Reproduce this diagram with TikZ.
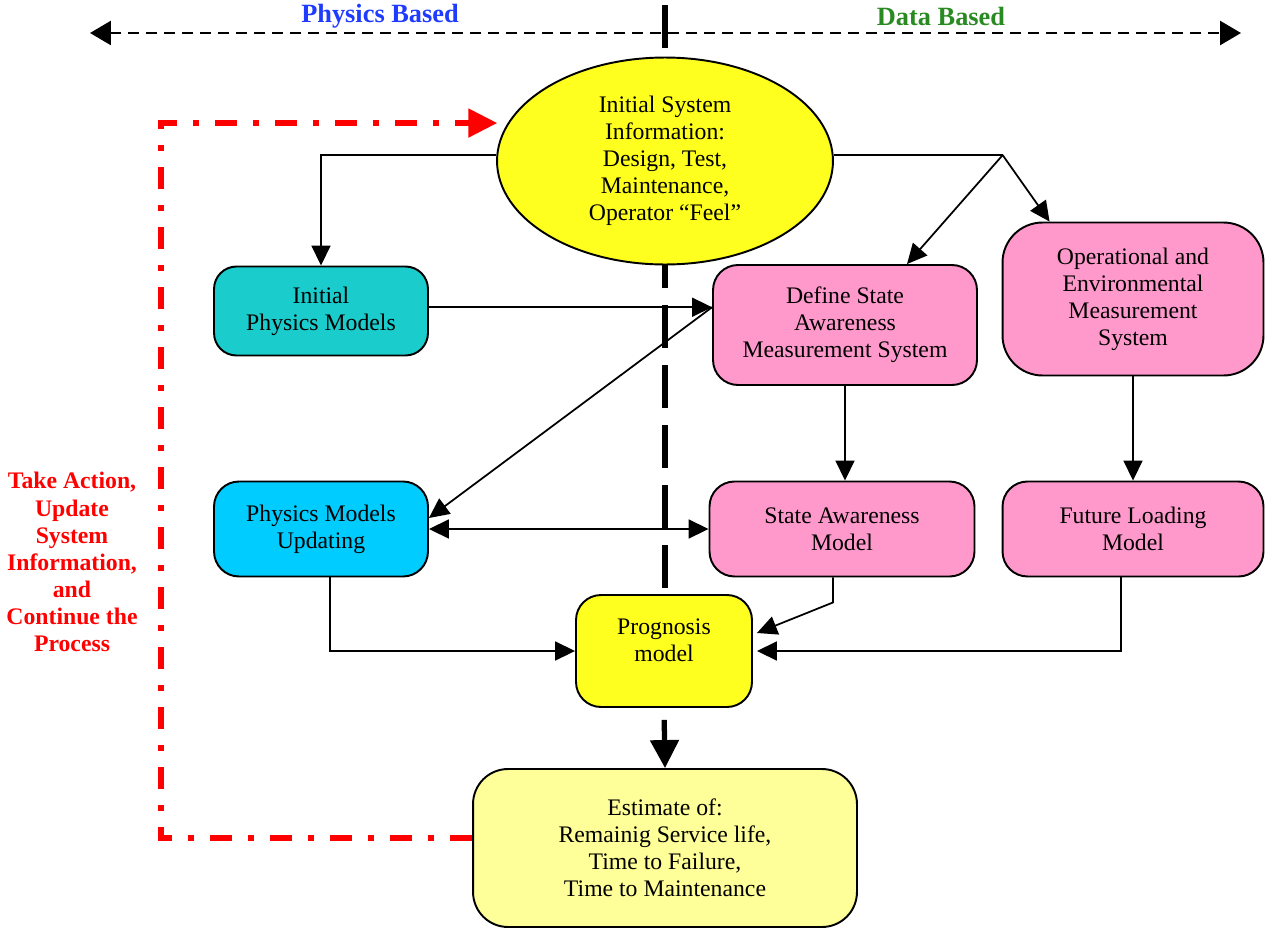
\documentclass[tikz,border=0pt]{standalone}
\usepackage{fontspec}
\setmainfont{Liberation Serif}
\usetikzlibrary{arrows.meta,shapes.geometric,calc}
\definecolor{turquesa}{HTML}{1ACCCC}
\definecolor{celeste}{HTML}{00CCFF}
\definecolor{rosa}{HTML}{FF99CC}
\definecolor{amarillo}{HTML}{FFFF1F}
\definecolor{crema}{HTML}{FFFF99}
\definecolor{azul}{HTML}{1F3BFF}
\definecolor{verde}{HTML}{2A8A22}
\definecolor{rojo}{HTML}{FF0000}

\begin{document}
\begin{tikzpicture}[x=0.02cm, y=-0.02cm,
  font=\fontsize{13.5}{15.4}\selectfont,
  bloque/.style={draw, line width=1.1pt, rounded corners=0.5cm, align=center, inner sep=4pt},
  conector/.style={-{Triangle[length=0.4cm, width=0.38cm]}, line width=1pt},
  divisoria/.style={line width=3pt, dash pattern=on 0.86cm off 0.34cm},
  retorno/.style={draw=rojo, line width=3pt, dash pattern=on 0.44cm off 0.32cm on 0.12cm off 0.32cm,
    -{Triangle[length=0.58cm, width=0.56cm]}}]
  \useasboundingbox (0,0) rectangle (1265,930);
  \draw[divisoria] (665,5) -- (665,590);
  \coordinate (izq) at (90,33);
  \coordinate (der) at (1241,33);
  \draw[{Triangle[length=0.42cm, width=0.48cm]}-{Triangle[length=0.42cm, width=0.48cm]},
    line width=1.6pt, dash pattern=on 0.22cm off 0.14cm] (izq) -- (der);
  \node[font=\fontsize{15}{17}\selectfont\bfseries, text=azul] (fisica) at (380,16) {Physics Based};
  \node[font=\fontsize{15}{17}\selectfont\bfseries, text=verde] (datos) at (941,16) {Data Based};

  \node[ellipse, draw, line width=1.1pt, fill=amarillo, minimum width=6.72cm, minimum height=4.14cm,
    align=center, inner sep=0pt] (info) at (665,161)
    {Initial System\\Information:\\Design, Test,\\Maintenance,\\Operator “Feel”};
  \node[bloque, fill=turquesa, minimum width=4.28cm, minimum height=1.78cm, rounded corners=0.45cm] (fisini) at (321,311) {Initial\\Physics Models};
  \node[bloque, fill=celeste, minimum width=4.28cm, minimum height=1.9cm] (fisact) at (321,529) {Physics Models\\Updating};
  \node[bloque, fill=rosa, minimum width=5.28cm, minimum height=2.4cm] (defest) at (845,325) {Define State\\Awareness\\Measurement System};
  \node[bloque, fill=rosa, minimum width=5.22cm, minimum height=3.06cm, rounded corners=0.8cm] (medop) at (1133,299) {Operational and\\Environmental\\Measurement\\System};
  \node[bloque, fill=rosa, minimum width=5.3cm, minimum height=1.9cm] (modest) at (842,529) {State Awareness\\Model};
  \node[bloque, fill=rosa, minimum width=5.22cm, minimum height=1.9cm] (carga) at (1133,529) {Future Loading\\Model};
  \node[bloque, fill=amarillo, minimum width=3.52cm, minimum height=2.24cm] (prog) at (664,651) {};
  \node[align=center] (progtxt) at (664,640) {Prognosis\\model};
  \node[bloque, fill=crema, minimum width=7.68cm, minimum height=3.16cm, rounded corners=0.7cm] (vida) at (665,848)
    {Estimate of:\\Remainig Service life,\\Time to Failure,\\Time to Maintenance};
  \node[text=rojo, font=\fontsize{13.5}{15.4}\selectfont\bfseries, align=center] (accion) at (72,562)
    {Take Action,\\Update\\System\\Information,\\and\\Continue the\\Process};

  \draw[conector] (info.178) -| (fisini.north);
  \path (info.2) ++(169,0) coordinate (rama);
  \draw[line width=1pt] (info.2) -- (rama);
  \draw[conector] (rama) -- ($(defest.north)+(62,0)$);
  \draw[conector] (rama) -- ($(medop.north west)+(48,0)$);
  \coordinate (entrada) at (fisini.2 -| defest.west);
  \draw[conector] (fisini.2) -- (entrada);
  \draw[conector] (entrada) -- ($(fisact.east)+(0,-11)$);
  \draw[{Triangle[length=0.4cm, width=0.38cm]}-{Triangle[length=0.4cm, width=0.38cm]}, line width=1pt] (fisact.east) -- (fisact.east -| modest.west);
  \draw[conector] (defest.south) -- (defest.south |- modest.north);
  \draw[conector] (medop.south) -- (carga.north);
  \draw[conector] ($(fisact.south)+(9,0)$) |- (prog.west);
  \draw[conector] ($(modest.south)+(-9,0)$) -- ++(0,25) -- ($(prog.east)+(4,-18)$);
  \draw[conector] ($(carga.south)+(-12,0)$) |- ($(prog.east)+(4,0)$);
  \draw[line width=3pt, -{Triangle[length=0.56cm, width=0.56cm]}, shorten <=0.24cm] (prog.south) -- (vida.north);
  \draw[retorno] (vida.177) -- ++(-311,0) |- ($(info.168)+(-8,-4)$);
\end{tikzpicture}
\end{document}
